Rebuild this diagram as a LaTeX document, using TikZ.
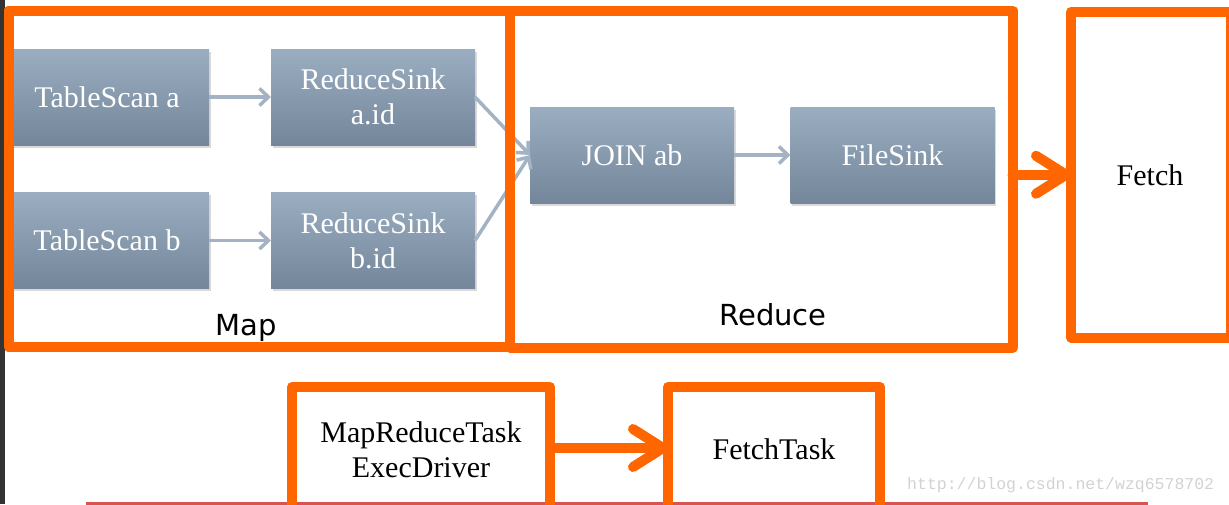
\documentclass[tikz,border=0pt]{standalone}
\usepackage{fontspec}
\setmainfont{Liberation Serif}
\newfontfamily\sansf{DejaVu Sans}
\newfontfamily\monof{Liberation Mono}
\usetikzlibrary{arrows.meta,shadows}
\definecolor{orng}{HTML}{FF6600}
\definecolor{gtop}{HTML}{9BAEC1}
\definecolor{gbot}{HTML}{74879A}
\definecolor{garrow}{HTML}{A3B3C3}
\definecolor{redl}{HTML}{D9534F}
\definecolor{strip}{HTML}{333333}
\definecolor{wmark}{HTML}{D2D2D2}
\begin{document}
\begin{tikzpicture}[x=1pt,y=-1pt,
  opbox/.style={rectangle, top color=gtop, bottom color=gbot,
    minimum width=204pt, minimum height=96pt, inner sep=0pt, outer sep=0pt,
    text=white, align=center, font=\fontsize{30}{35}\selectfont,
    drop shadow={shadow xshift=1.5pt,shadow yshift=-2.5pt,opacity=0.3}},
  garr/.style={draw=garrow, line width=3.5pt, -{Straight Barb[length=9pt,width=17pt]}},
  obox/.style={draw=orng, line width=10pt, rectangle, inner sep=0pt, outer sep=0pt, line join=round},
  oarr/.style={draw=orng, line width=10pt, line cap=round, -{Straight Barb[length=30pt,width=38pt,round]}},
  ttext/.style={font=\fontsize{30}{35}\selectfont, text=black, align=center, inner sep=0pt},
  stext/.style={font=\sansf\fontsize{29}{34}\selectfont, text=black, inner sep=0pt},
]
\useasboundingbox (0,0) rectangle (1229,504);
\clip (0,0) rectangle (1229,504);
\fill[strip] (0,0) rectangle (5,504);

% gray operator boxes
\node[opbox] (tsa) at (107,97) {TableScan a};
\node[opbox] (rsa) at (373,97) {ReduceSink\\a.id};
\node[opbox] (tsb) at (107,240.5) {TableScan b};
\node[opbox] (rsb) at (373,240.5) {ReduceSink\\b.id};
\node[opbox] (join) at (632,155) {JOIN ab};
\node[opbox] (fsink) at (892.5,155) {FileSink};

\draw[garr] (tsa.east) -- (rsa.west);
\draw[garr] (tsb.east) -- (rsb.west);
\draw[garr] (rsa.east) -- (join.west);
\draw[garr] (rsb.east) -- (join.west);
\draw[garr] (join.east) -- (fsink.west);

% bottom red line
\draw[redl, line width=2.5pt] (86,503.5) -- (1148,503.5);

% orange boxes
\node[obox, minimum width=501.5pt, minimum height=336.5pt] (map) at (259.25,178.75) {};
\node[obox, minimum width=502.5pt, minimum height=337pt] (reduce) at (761.25,179) {};
\node[obox, minimum width=160pt, minimum height=325.5pt] (fetch) at (1151,174.75) {};
\node[obox, minimum width=258pt, minimum height=153pt] (mrt) at (421,463.5) {};
\node[obox, minimum width=212pt, minimum height=153pt] (ft) at (774,463.5) {};

\draw[oarr] (reduce.east |- fetch.center) -- (fetch.west);
\draw[oarr] ([yshift=15.5pt]mrt.east) -- ([yshift=15.5pt]ft.west);

% labels
\node[stext, anchor=base] (maplabel) at (246,335) {Map};
\node[stext, anchor=base] (reducelabel) at (773,325) {Reduce};
\node[ttext, anchor=base] (fetchlabel) at (1150,185) {Fetch};
\node[ttext] (mrtlabel) at (421,450) {MapReduceTask\\ExecDriver};
\node[ttext, anchor=base] (ftlabel) at (774,459) {FetchTask};

\node[font=\monof\fontsize{16.5}{18}\selectfont, text=wmark, anchor=base west, inner sep=0pt] (wm) at (907,489) {http://blog.csdn.net/wzq6578702};
\end{tikzpicture}
\end{document}
